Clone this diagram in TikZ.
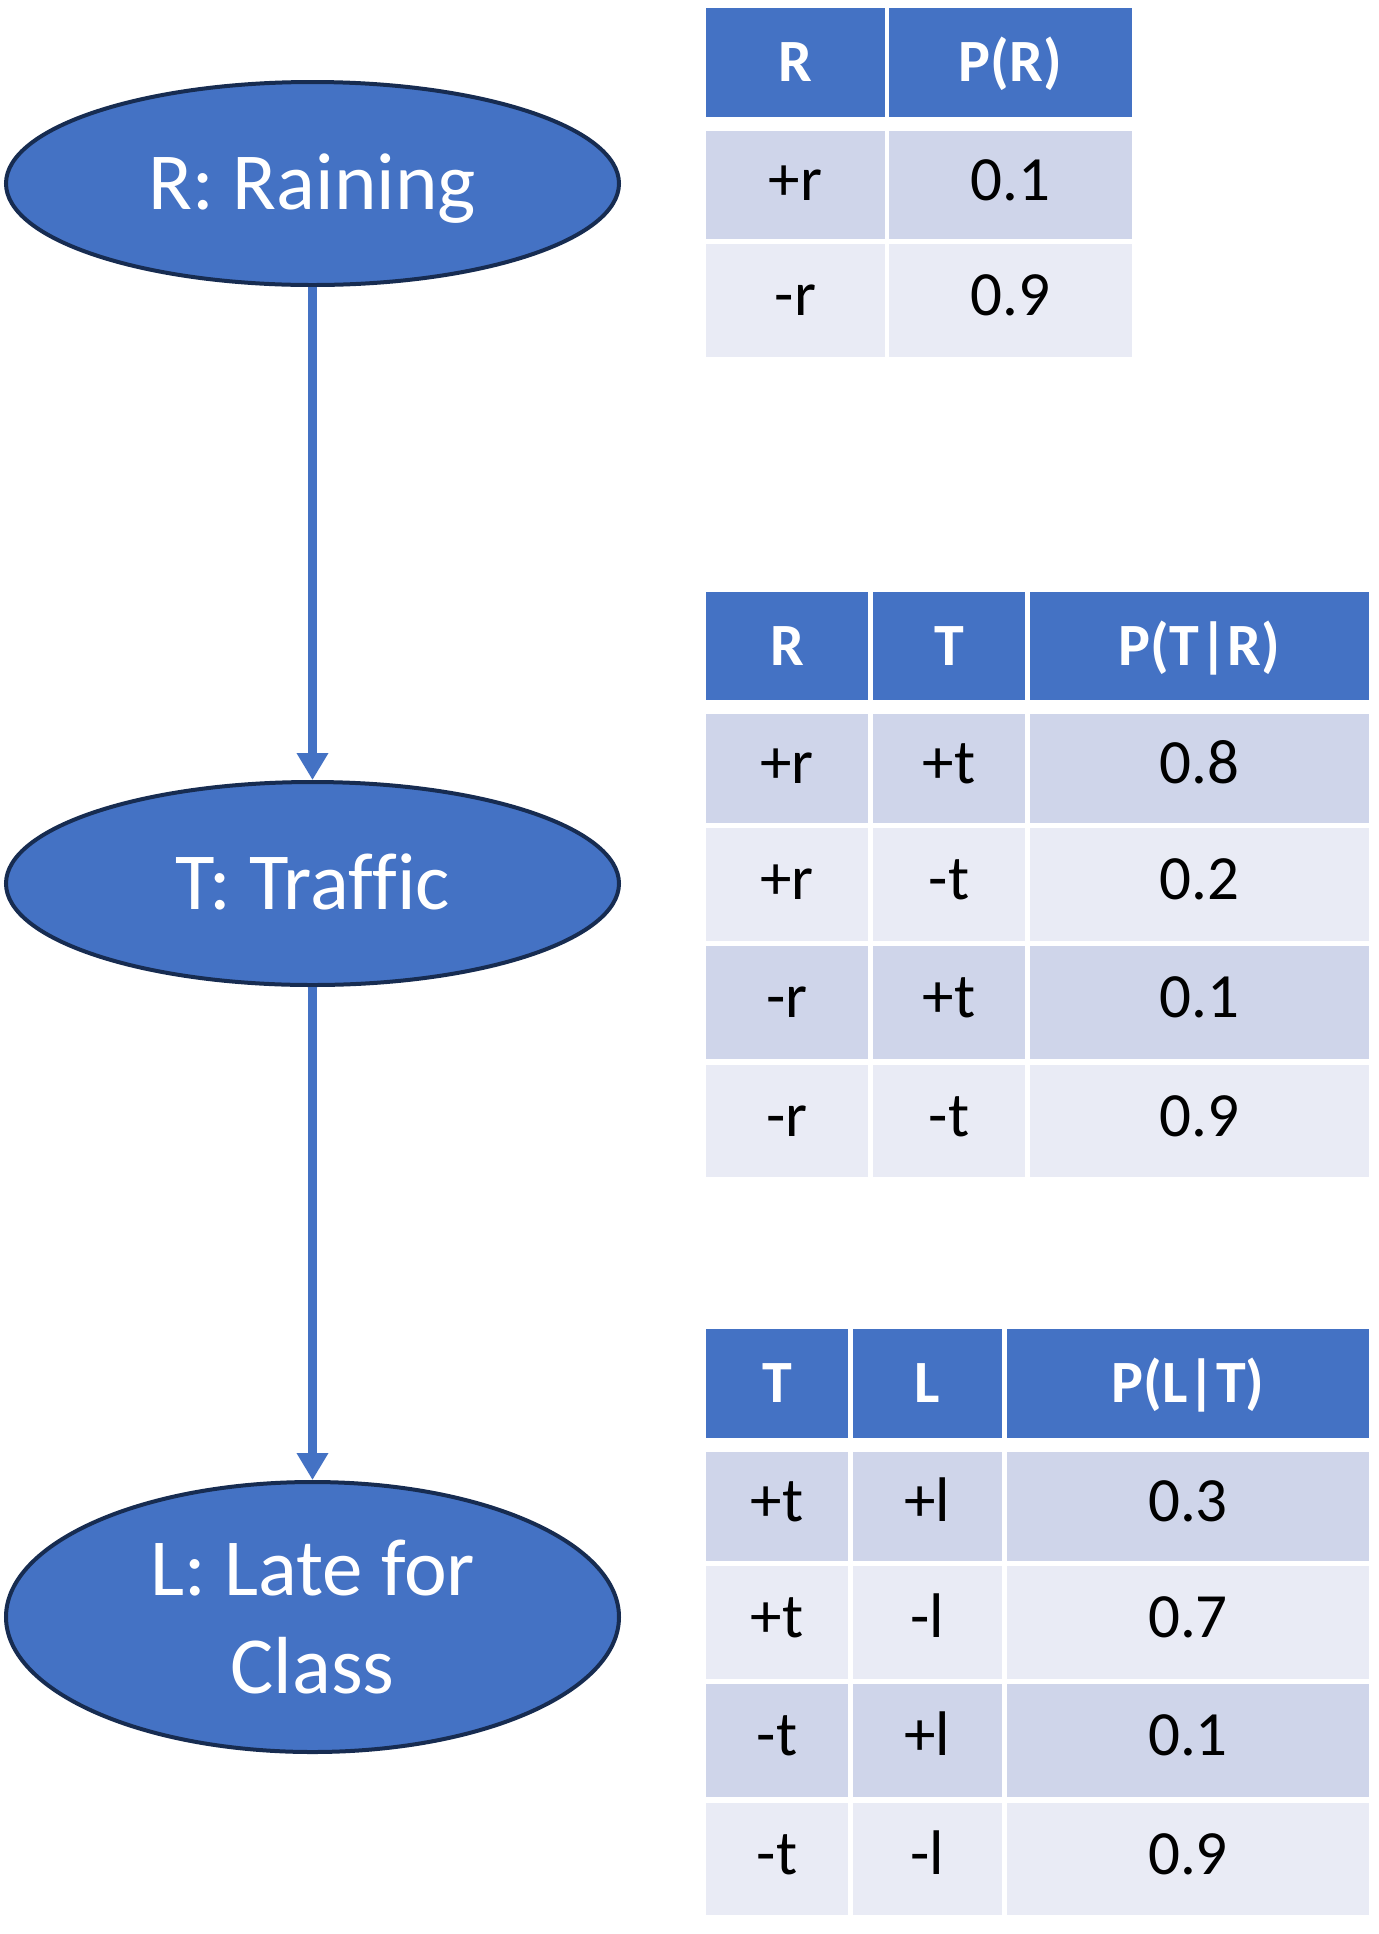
\documentclass[tikz,border=0pt]{standalone}
\usepackage{fontspec}
\setmainfont{Carlito}[Ligatures={TeX,NoCommon}]
\usetikzlibrary{shapes.geometric,arrows.meta}
\definecolor{hdrblue}{HTML}{4472C4}
\definecolor{rowodd}{HTML}{CFD5EA}
\definecolor{roweven}{HTML}{E9EBF5}
\definecolor{navy}{HTML}{172C51}
% name, x1, y1, x2, y2, style, text
\newcommand\cellnode[7]{\node[#6, minimum width={(#4-#2)*0.5pt}, minimum height={(#5-#3)*0.5pt}] (#1) at ({(#2+#4)/2},{(#3+#5)/2}) {#7};}
\tikzset{
  cellbase/.style={rectangle, inner sep=0pt, outer sep=0pt, draw=none},
  hdrcell/.style={cellbase, fill=hdrblue, text=white, font=\fontsize{30}{36}\selectfont\bfseries, text height=19pt, text depth=0pt},
  oddcell/.style={cellbase, fill=rowodd, text=black, font=\fontsize{31.5}{38}\selectfont, text height=19.9pt, text depth=4.5pt},
  evencell/.style={cellbase, fill=roweven, text=black, font=\fontsize{31.5}{38}\selectfont, text height=19.9pt, text depth=4.5pt},
  varnode/.style={ellipse, draw=navy, line width=2pt, fill=hdrblue, text=white, inner sep=0pt,
    font=\fontsize{40.5}{49}\selectfont, minimum width=306.5pt, minimum height=101.5pt},
  arr/.style={draw=hdrblue, line width=4.25pt, -{Triangle[width=15pt,length=13.5pt]}}
}
\begin{document}
\begin{tikzpicture}[x=0.5pt,y=-0.5pt]
\useasboundingbox (0,0) rectangle (1379,1934);
\fill[white] (0,0) rectangle (1379,1934);

% variable nodes
\node[varnode, text height=25.6pt, text depth=0pt] (R) at (312.5,183.5) {R: Raining};
\node[varnode, text height=25.6pt, text depth=0pt] (T) at (312.5,883.5) {T: Traffic};
\node[varnode, minimum height=135pt, align=center] (L) at (312.5,1617) {L: Late for\\Class};

\draw[arr] (R.south) -- (T.north);
\draw[arr] (T.south) -- (L.north);

% table P(R)
\cellnode{a11}{706}{8}{885}{117}{hdrcell}{R}
\cellnode{a12}{889}{8}{1132}{117}{hdrcell}{P(R)}
\cellnode{a21}{706}{131}{885}{239}{oddcell}{+r}
\cellnode{a22}{889}{131}{1132}{239}{oddcell}{0.1}
\cellnode{a31}{706}{244}{885}{357}{evencell}{-r}
\cellnode{a32}{889}{244}{1132}{357}{evencell}{0.9}

% table P(T|R)
\cellnode{b11}{706}{592}{868}{700}{hdrcell}{R}
\cellnode{b12}{873}{592}{1025}{700}{hdrcell}{T}
\cellnode{b13}{1030}{592}{1369}{700}{hdrcell}{P(T|R)}
\cellnode{b21}{706}{714}{868}{823}{oddcell}{+r}
\cellnode{b22}{873}{714}{1025}{823}{oddcell}{+t}
\cellnode{b23}{1030}{714}{1369}{823}{oddcell}{0.8}
\cellnode{b31}{706}{828}{868}{941}{evencell}{+r}
\cellnode{b32}{873}{828}{1025}{941}{evencell}{-t}
\cellnode{b33}{1030}{828}{1369}{941}{evencell}{0.2}
\cellnode{b41}{706}{946}{868}{1059}{oddcell}{-r}
\cellnode{b42}{873}{946}{1025}{1059}{oddcell}{+t}
\cellnode{b43}{1030}{946}{1369}{1059}{oddcell}{0.1}
\cellnode{b51}{706}{1065}{868}{1177}{evencell}{-r}
\cellnode{b52}{873}{1065}{1025}{1177}{evencell}{-t}
\cellnode{b53}{1030}{1065}{1369}{1177}{evencell}{0.9}

% table P(L|T)
\cellnode{c11}{706}{1329}{848}{1438}{hdrcell}{T}
\cellnode{c12}{853}{1329}{1002}{1438}{hdrcell}{L}
\cellnode{c13}{1007}{1329}{1369}{1438}{hdrcell}{P(L|T)}
\cellnode{c21}{706}{1452}{848}{1561}{oddcell}{+t}
\cellnode{c22}{853}{1452}{1002}{1561}{oddcell}{+l}
\cellnode{c23}{1007}{1452}{1369}{1561}{oddcell}{0.3}
\cellnode{c31}{706}{1566}{848}{1679}{evencell}{+t}
\cellnode{c32}{853}{1566}{1002}{1679}{evencell}{-l}
\cellnode{c33}{1007}{1566}{1369}{1679}{evencell}{0.7}
\cellnode{c41}{706}{1684}{848}{1797}{oddcell}{-t}
\cellnode{c42}{853}{1684}{1002}{1797}{oddcell}{+l}
\cellnode{c43}{1007}{1684}{1369}{1797}{oddcell}{0.1}
\cellnode{c51}{706}{1803}{848}{1915}{evencell}{-t}
\cellnode{c52}{853}{1803}{1002}{1915}{evencell}{-l}
\cellnode{c53}{1007}{1803}{1369}{1915}{evencell}{0.9}
\end{tikzpicture}
\end{document}
